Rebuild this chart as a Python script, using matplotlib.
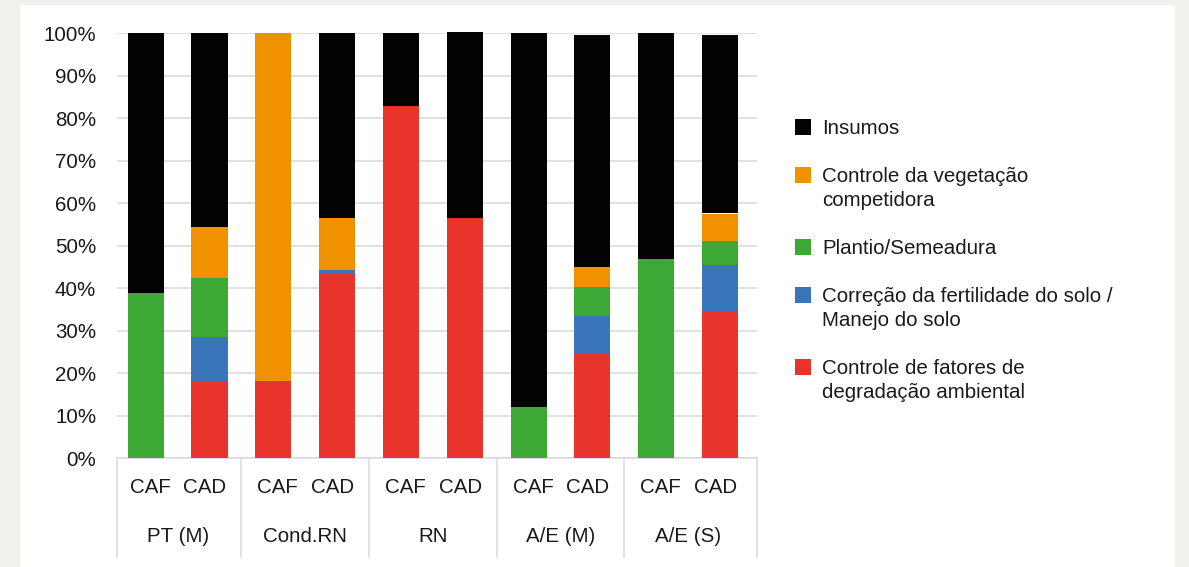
import matplotlib
matplotlib.use("Agg")
import matplotlib.pyplot as plt
import matplotlib.transforms as mtransforms
from matplotlib.patches import Rectangle
from matplotlib.lines import Line2D

plt.rcParams['font.family'] = ['Liberation Sans', 'DejaVu Sans']

# ---- data (percent of total cost per activity) ----
groups = ["PT (M)", "Cond.RN", "RN", "A/E (M)", "A/E (S)"]
subgroups = ["CAF", "CAD"]

series_names = [
    "Controle de fatores de\ndegradação ambiental",
    "Correção da fertilidade do solo /\nManejo do solo",
    "Plantio/Semeadura",
    "Controle da vegetação\ncompetidora",
    "Insumos",
]
series_colors = ["#e8342c", "#3a75b9", "#3da935", "#f29100", "#020202"]

# one value per bar: PT CAF, PT CAD, Cond CAF, Cond CAD, RN CAF, RN CAD,
# A/E(M) CAF, A/E(M) CAD, A/E(S) CAF, A/E(S) CAD
degradacao = [0.0, 18.0, 18.2, 43.4, 82.9, 56.5, 0.0, 24.6, 0.0, 34.7]
fertilidade = [0.0, 10.5, 0.0, 1.0, 0.0, 0.0, 0.0, 9.0, 0.0, 10.8]
plantio = [38.9, 13.9, 0.0, 0.0, 0.0, 0.0, 12.1, 6.8, 47.0, 5.6]
vegetacao = [0.0, 12.0, 81.8, 12.1, 0.0, 0.0, 0.0, 4.7, 0.0, 6.5]
insumos = [61.1, 45.6, 0.0, 43.5, 17.1, 43.8, 87.9, 54.6, 53.0, 42.1]

series_values = [degradacao, fertilidade, plantio, vegetacao, insumos]
yticks = [0, 10, 20, 30, 40, 50, 60, 70, 80, 90, 100]

# ---- figure ----
W, H = 1189, 567
fig = plt.figure(figsize=(W / 100, H / 100), dpi=100)
fig.patch.set_facecolor("#f1f0ec")

# white card behind the chart
fig.patches.append(Rectangle((20 / W, 0), (1175 - 20) / W, (H - 5) / H,
                             transform=fig.transFigure, facecolor="white",
                             edgecolor="none", zorder=-5))

ax_left, ax_right = 117 / W, 757 / W
ax_bottom, ax_top = 1 - 458.3 / H, 1 - 33.3 / H
ax = fig.add_axes([ax_left, ax_bottom, ax_right - ax_left, ax_top - ax_bottom])
ax.set_facecolor("none")
ax.set_zorder(1)

n_bars = len(groups) * len(subgroups)
x = list(range(n_bars))
bottom = [0.0] * n_bars
for vals, color in zip(series_values, series_colors):
    ax.bar(x, vals, bottom=bottom, width=0.565, color=color,
           edgecolor="none", zorder=3, clip_on=False)
    bottom = [b + v for b, v in zip(bottom, vals)]

ax.set_xlim(-0.45, 9.58)
ax.set_ylim(0, 100)
ax.set_yticks(yticks)
ax.set_yticklabels([f"{t}%" for t in yticks])
ax.tick_params(axis="y", length=0, pad=15, labelsize=14.8, labelcolor="#1a1a1a")
ax.set_xticks([])
ax.yaxis.grid(True, color="#d9d9d9", linewidth=1.1, zorder=0)
ax.set_axisbelow(True)
for side in ("left", "right", "top"):
    ax.spines[side].set_visible(False)
ax.spines["bottom"].set_color("#d9d9d9")
ax.spines["bottom"].set_linewidth(1.1)

# category axis: sub-labels, group labels and separators
ax_h_px = 458.3 - 33.3
trans = mtransforms.blended_transform_factory(ax.transData, ax.transAxes)
for i in range(n_bars):
    sub = subgroups[i % 2]
    shift = 4.5 if i % 2 == 0 else -4.5
    t = trans + mtransforms.ScaledTranslation(shift / 100, 0, fig.dpi_scale_trans)
    ax.text(i, -(493.3 - 458.3) / ax_h_px, sub, transform=t, ha="center",
            va="baseline", fontsize=14.8, color="#1a1a1a")

for g, name in enumerate(groups):
    ax.text(2 * g + 0.5, -(541.7 - 458.3) / ax_h_px, name, transform=trans,
            ha="center", va="baseline", fontsize=14.8, color="#1a1a1a")

bounds = [-0.45] + [2 * g + 1.5 for g in range(len(groups) - 1)] + [9.58]
for b in bounds:
    ax.add_line(Line2D([b, b], [0, -98.4 / ax_h_px], transform=trans,
                       color="#d9d9d9", linewidth=1.1, clip_on=False))

# legend, top entry first, square aligned with the first text line
line_h = 24
y_line = 126.7
for name, color in zip(series_names[::-1], series_colors[::-1]):
    lines = name.split("\n")
    fig.patches.append(Rectangle((795 / W, 1 - (y_line + 8) / H), 16 / W, 16 / H,
                                 transform=fig.transFigure, facecolor=color,
                                 edgecolor="none", zorder=2))
    for k, ln in enumerate(lines):
        fig.text(822 / W, 1 - (y_line + k * line_h) / H, ln, ha="left",
                 va="center_baseline", fontsize=14.8, color="#1a1a1a")
    y_line += line_h * (len(lines) + 1)

fig.savefig("out.png", dpi=100, facecolor=fig.get_facecolor())
